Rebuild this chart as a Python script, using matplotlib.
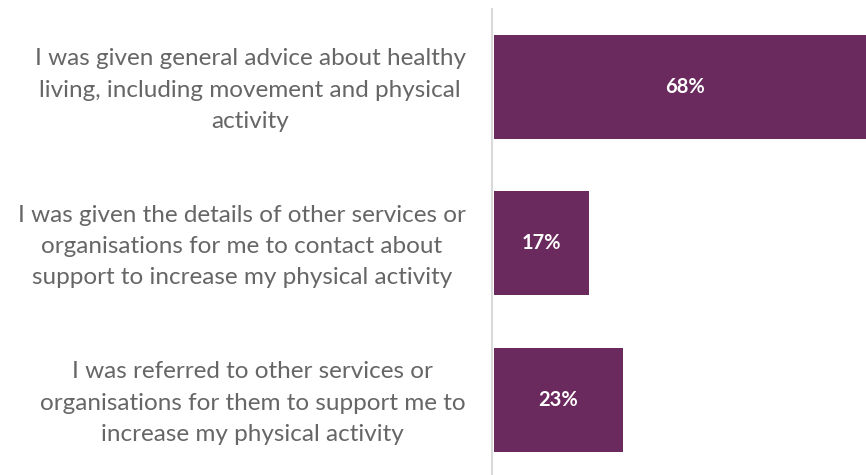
import numpy as np
import matplotlib.pyplot as plt

labels = [
    "I was given general advice about healthy\nliving, including movement and physical\nactivity",
    "I was given the details of other services or\norganisations for me to contact about\nsupport to increase my physical activity",
    "I was referred to other services or\norganisations for them to support me to\nincrease my physical activity",
]
values = [68, 17, 23]

bar_color = "#6B2A5E"
text_color = "#666666"

fig = plt.figure(figsize=(8.66, 4.75), dpi=100)
ax = fig.add_axes([492 / 866, 0, 1 - 492 / 866, 1 - 9 / 475])

y = np.arange(len(values))
ax.barh(y, values, height=0.665, color=bar_color, left=0)
ax.set_xlim(-0.3, 66.3)
ax.set_ylim(2.48, -0.498)

for yi, v in zip(y, values):
    ax.text(v / 2, yi, f"{v}%", ha="center", va="center", color="white",
            fontsize=14.5, fontweight="bold", family="Lato")

# labels sit a touch higher than the bar centres
ax.set_yticks(y - 0.025)
ax.set_yticklabels(labels, fontsize=17.5, color=text_color, family="Lato", linespacing=1.6)
for t in ax.get_yticklabels():
    t.set_multialignment("center")
ax.tick_params(axis="y", length=0, pad=19)
ax.set_xticks([])

for s in ["top", "right", "bottom"]:
    ax.spines[s].set_visible(False)
ax.spines["left"].set_color("#d9d9d9")
ax.spines["left"].set_linewidth(1.5)

plt.savefig("out.png", dpi=100)
